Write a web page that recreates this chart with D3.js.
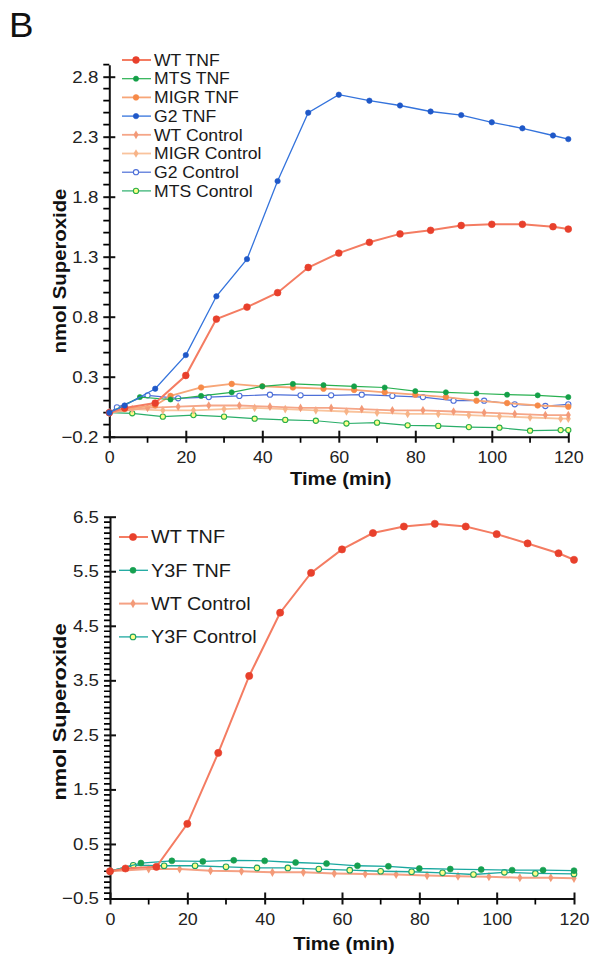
<!DOCTYPE html>
<html>
<head>
<meta charset="utf-8">
<script src="https://cdn.jsdelivr.net/npm/d3@7"></script>
<style>
  body { margin: 0; background: #fff; }
  svg { display: block; font-family: "Liberation Sans", Arial, Helvetica, sans-serif; }
</style>
</head>
<body>
<svg id="chart" width="599" height="961"></svg>
<script>
// ---- top panel data (nmol superoxide vs time, min) ----
var topXTicks = [0, 20, 40, 60, 80, 100, 120];
var topYTicks = [-0.2, 0.3, 0.8, 1.3, 1.8, 2.3, 2.8];

var wtTnfTimeA = [0, 4, 12, 20, 28, 36, 44, 52, 60, 68, 76, 84, 92, 100, 108, 116, 120];
var wtTnfA = [0, 0.04, 0.08, 0.31, 0.78, 0.88, 1.0, 1.21, 1.33, 1.42, 1.49, 1.52, 1.56, 1.57, 1.57, 1.55, 1.53];

var mtsTnfTime = [0, 8, 16, 24, 32, 40, 48, 56, 64, 72, 80, 88, 96, 104, 112, 120];
var mtsTnf = [0, 0.13, 0.11, 0.14, 0.17, 0.22, 0.24, 0.23, 0.22, 0.21, 0.18, 0.17, 0.16, 0.15, 0.145, 0.13];

var migrTnfTime = [0, 4, 12, 16, 24, 32, 40, 48, 56, 64, 72, 80, 88, 96, 104, 112, 120];
var migrTnf = [0, 0.03, 0.06, 0.14, 0.21, 0.24, 0.22, 0.21, 0.2, 0.19, 0.17, 0.15, 0.13, 0.1, 0.08, 0.06, 0.05];

var g2TnfTime = [0, 4, 12, 20, 28, 36, 44, 52, 60, 68, 76, 84, 92, 100, 108, 116, 120];
var g2Tnf = [0, 0.06, 0.2, 0.48, 0.97, 1.28, 1.93, 2.5, 2.65, 2.6, 2.56, 2.51, 2.48, 2.42, 2.37, 2.31, 2.28];

var wtCtrlTimeA = [0, 10, 18, 26, 34, 42, 50, 58, 66, 74, 82, 90, 98, 106, 114, 120];
var wtCtrlA = [0, 0.04, 0.05, 0.06, 0.06, 0.05, 0.04, 0.04, 0.03, 0.02, 0.02, 0.01, 0.0, -0.01, -0.02, -0.02];

var migrCtrlTime = [0, 6, 14, 22, 30, 38, 46, 54, 62, 70, 78, 86, 94, 102, 110, 118, 120];
var migrCtrl = [0, 0.03, 0.02, 0.02, 0.03, 0.04, 0.03, 0.02, 0.01, 0.0, -0.01, -0.01, -0.02, -0.03, -0.04, -0.05, -0.05];

var g2CtrlTime = [0, 2, 10, 18, 26, 34, 42, 50, 58, 66, 74, 82, 90, 98, 106, 114, 120];
var g2Ctrl = [0, 0.045, 0.145, 0.12, 0.13, 0.14, 0.15, 0.145, 0.145, 0.15, 0.14, 0.13, 0.1, 0.1, 0.07, 0.056, 0.07];

var mtsCtrlTime = [0, 6, 14, 22, 30, 38, 46, 54, 62, 70, 78, 86, 94, 102, 110, 118, 120];
var mtsCtrl = [0, -0.005, -0.033, -0.02, -0.033, -0.05, -0.06, -0.067, -0.09, -0.083, -0.105, -0.11, -0.12, -0.125, -0.15, -0.145, -0.145];

// ---- bottom panel data ----
var bottomXTicks = [0, 20, 40, 60, 80, 100, 120];
var bottomYTicks = [-0.5, 0.5, 1.5, 2.5, 3.5, 4.5, 5.5, 6.5];

var wtTnfTimeB = [0, 4, 12, 20, 28, 36, 44, 52, 60, 68, 76, 84, 92, 100, 108, 116, 120];
var wtTnfB = [0, 0.05, 0.08, 0.87, 2.17, 3.58, 4.74, 5.47, 5.9, 6.2, 6.32, 6.37, 6.32, 6.18, 6.01, 5.83, 5.71];

var y3fTnfTime = [0, 8, 16, 24, 32, 40, 48, 56, 64, 72, 80, 88, 96, 104, 112, 120];
var y3fTnf = [0, 0.15, 0.19, 0.18, 0.2, 0.19, 0.16, 0.14, 0.1, 0.09, 0.05, 0.04, 0.03, 0.02, 0.02, 0.01];

var wtCtrlTimeB = [0, 10, 18, 26, 34, 42, 50, 58, 66, 74, 82, 90, 98, 106, 114, 120];
var wtCtrlB = [0, 0.04, 0.04, 0.01, 0.0, -0.02, -0.02, -0.04, -0.05, -0.06, -0.08, -0.09, -0.1, -0.12, -0.12, -0.13];

var y3fCtrlTime = [0, 6, 14, 22, 30, 38, 46, 54, 62, 70, 78, 86, 94, 102, 110, 120];
var y3fCtrl = [0, 0.11, 0.1, 0.1, 0.08, 0.06, 0.06, 0.04, 0.02, 0.0, -0.01, -0.03, -0.06, -0.02, -0.04, -0.05];

var FONT_SX = 1.1;

function zip(t, v) {
	return t.map(function(d, i) { return { t: d, v: v[i] }; });
}

var svg = d3.select('#chart');

// panel letter
svg.append('text')
	.attr('transform', 'translate(9,37) scale(1.05,1)')
	.attr('font-size', 35)
	.attr('fill', '#111')
	.text('B');

function drawPanel(cfg) {
	var x = d3.scaleLinear().domain([0, 120]).range(cfg.xRange);
	var y = d3.scaleLinear().domain(cfg.yDomain).range(cfg.yRange);
	var g = svg.append('g');

	// major axes
	var gx = g.append('g')
		.attr('transform', 'translate(0,' + cfg.yRange[0] + ')')
		.call(d3.axisBottom(x).tickValues(cfg.xTicks).tickSize(6).tickPadding(8).tickSizeOuter(0));
	gx.selectAll('.tick line').attr('y1', -6);
	var gy = g.append('g')
		.attr('transform', 'translate(' + cfg.xRange[0] + ',0)')
		.call(d3.axisLeft(y).tickValues(cfg.yTicks).tickSize(6).tickPadding(4).tickSizeOuter(0)
			.tickFormat(d3.format('.1f')));
	gy.selectAll('.tick line').attr('x1', 6);

	g.selectAll('.domain').attr('stroke', '#111').attr('stroke-width', 2);
	g.selectAll('.tick line').attr('stroke', '#111').attr('stroke-width', 2);
	gy.selectAll('.tick text')
		.attr('font-size', 17)
		.attr('fill', '#222')
		.attr('font-family', '"Liberation Sans", Arial, sans-serif')
		.attr('transform', 'scale(' + FONT_SX + ',1)');
	gx.selectAll('.tick text')
		.attr('font-size', 17)
		.attr('fill', '#222')
		.attr('font-family', '"Liberation Sans", Arial, sans-serif')
		.attr('transform', 'scale(1.05,1)');

	// minor ticks, drawn by hand as one path
	var minorX = d3.range(0, 121, 10).filter(function(d) { return d % 20 !== 0; });
	var nY = Math.round((cfg.yDomain[1] - cfg.yDomain[0]) / cfg.minorStep);
	var minorY = d3.range(0, nY + 1)
		.map(function(i) { return cfg.yDomain[0] + i * cfg.minorStep; })
		.filter(function(d) {
			return !cfg.yTicks.some(function(m) { return Math.abs(m - d) < 1e-6; });
		});
	var p = d3.path();
	minorX.forEach(function(d) {
		p.moveTo(x(d), cfg.yRange[0]);
		p.lineTo(x(d), cfg.yRange[0] + 6);
	});
	minorY.forEach(function(d) {
		p.moveTo(cfg.xRange[0] - 6, y(d));
		p.lineTo(cfg.xRange[0], y(d));
	});
	g.append('path')
		.attr('d', p.toString())
		.attr('fill', 'none')
		.attr('stroke', '#000')
		.attr('stroke-width', 1.7);

	// axis titles
	g.append('text')
		.attr('transform', 'translate(' + cfg.yTitleX + ',' + cfg.yTitleY + ') rotate(-90) scale(' + cfg.yTitleSX + ',1)')
		.attr('text-anchor', 'middle')
		.attr('font-size', cfg.titleSize)
		.attr('font-weight', 'bold')
		.attr('fill', '#111')
		.text('nmol Superoxide');
	g.append('text')
		.attr('transform', 'translate(' + ((cfg.xRange[0] + cfg.xRange[1]) / 2 + 2) + ',' + cfg.xTitleY + ') scale(1.12,1)')
		.attr('text-anchor', 'middle')
		.attr('font-size', 18)
		.attr('font-weight', 'bold')
		.attr('fill', '#111')
		.text('Time (min)');

	var line = d3.line()
		.x(function(d) { return x(d.t); })
		.y(function(d) { return y(d.v); });

	cfg.series.forEach(function(s) {
		var pts = zip(s.time, s.values);
		var sg = g.append('g');
		sg.append('path')
			.datum(pts)
			.attr('d', line)
			.attr('fill', 'none')
			.attr('stroke', s.line)
			.attr('stroke-width', s.lw);
		drawMarkers(sg, pts.map(function(d) { return [x(d.t), y(d.v)]; }), s);
	});

	// legend
	var lg = g.append('g');
	cfg.series.slice().sort(function(a, b) { return a.order - b.order; }).forEach(function(s, i) {
		var cy = cfg.legendY + i * cfg.legendStep;
		lg.append('line')
			.attr('x1', cfg.legendX).attr('x2', cfg.legendX + 29)
			.attr('y1', cy).attr('y2', cy)
			.attr('stroke', s.line)
			.attr('stroke-width', s.lw);
		drawMarkers(lg, [[cfg.legendX + 14, cy]], s);
		lg.append('text')
			.attr('transform', 'translate(' + (cfg.legendX + 32) + ',' + (cy + cfg.legendSize * 0.36) + ') scale(' + FONT_SX + ',1)')
			.attr('font-size', cfg.legendSize)
			.attr('fill', '#1a1a1a')
			.text(s.name);
	});
}

function drawMarkers(sel, pts, s) {
	if (s.marker === 'dot' || s.marker === 'open') {
		sel.selectAll(null)
			.data(pts)
			.enter().append('circle')
			.attr('cx', function(d) { return d[0]; })
			.attr('cy', function(d) { return d[1]; })
			.attr('r', s.r)
			.attr('fill', s.fill)
			.attr('stroke', s.stroke)
			.attr('stroke-width', s.marker === 'open' ? 1.1 : 0.6);
	} else {
		sel.selectAll(null)
			.data(pts)
			.enter().append('path')
			.attr('transform', function(d) { return 'translate(' + d + ')'; })
			.attr('d', d3.symbol(d3.symbolDiamond, s.size)())
			.attr('fill', s.fill)
			.attr('stroke', 'none');
	}
}

drawPanel({
	xRange: [109.3, 568.3],
	yDomain: [-0.2, 2.9],
	yRange: [436.7, 64.7],
	xTicks: topXTicks,
	yTicks: topYTicks,
	minorStep: 0.1,
	yTitleX: 66, yTitleY: 271, yTitleSX: 1.13, titleSize: 18,
	xTitleY: 485,
	legendX: 122, legendY: 60, legendStep: 18.7, legendSize: 16,
	series: [
		{ name: 'MTS Control', order: 7, time: mtsCtrlTime, values: mtsCtrl, line: '#2aae6a', lw: 1.2, marker: 'open', r: 2.6, fill: '#ffff8a', stroke: '#2aae4a' },
		{ name: 'MIGR Control', order: 5, time: migrCtrlTime, values: migrCtrl, line: '#f9c39c', lw: 1.8, marker: 'diamond', size: 22, fill: '#f7b488' },
		{ name: 'WT Control', order: 4, time: wtCtrlTimeA, values: wtCtrlA, line: '#f5a688', lw: 1.8, marker: 'diamond', size: 22, fill: '#f39a78' },
		{ name: 'G2 Control', order: 6, time: g2CtrlTime, values: g2Ctrl, line: '#4d6fd8', lw: 1.2, marker: 'open', r: 2.6, fill: '#fff', stroke: '#4d6fd8' },
		{ name: 'MIGR TNF', order: 2, time: migrTnfTime, values: migrTnf, line: '#f7a678', lw: 1.8, marker: 'dot', r: 2.8, fill: '#f68a48', stroke: '#f68a48' },
		{ name: 'MTS TNF', order: 1, time: mtsTnfTime, values: mtsTnf, line: '#28b050', lw: 1.2, marker: 'dot', r: 2.6, fill: '#14a048', stroke: '#14a048' },
		{ name: 'WT TNF', order: 0, time: wtTnfTimeA, values: wtTnfA, line: '#f47c62', lw: 2, marker: 'dot', r: 3.4, fill: '#e8402c', stroke: '#e8402c' },
		{ name: 'G2 TNF', order: 3, time: g2TnfTime, values: g2Tnf, line: '#3473dc', lw: 1.3, marker: 'dot', r: 2.7, fill: '#1f58c8', stroke: '#1f58c8' }
	]
});

drawPanel({
	xRange: [110, 574],
	yDomain: [-0.5, 6.5],
	yRange: [898.5, 516.7],
	xTicks: bottomXTicks,
	yTicks: bottomYTicks,
	minorStep: 0.1,
	yTitleX: 66, yTitleY: 712, yTitleSX: 1.15, titleSize: 19,
	xTitleY: 950,
	legendX: 119, legendY: 537, legendStep: 33.3, legendSize: 18,
	series: [
		{ name: 'WT Control', order: 2, time: wtCtrlTimeB, values: wtCtrlB, line: '#f5a184', lw: 2, marker: 'diamond', size: 24, fill: '#f39a78' },
		{ name: 'Y3F Control', order: 3, time: y3fCtrlTime, values: y3fCtrl, line: '#1ea8a0', lw: 1.3, marker: 'open', r: 2.8, fill: '#ffff8a', stroke: '#1ea060' },
		{ name: 'Y3F TNF', order: 1, time: y3fTnfTime, values: y3fTnf, line: '#1aa8a0', lw: 1.3, marker: 'dot', r: 3, fill: '#16a050', stroke: '#16a050' },
		{ name: 'WT TNF', order: 0, time: wtTnfTimeB, values: wtTnfB, line: '#f47c62', lw: 2, marker: 'dot', r: 3.6, fill: '#e8402c', stroke: '#e8402c' }
	]
});
</script>
</body>
</html>
